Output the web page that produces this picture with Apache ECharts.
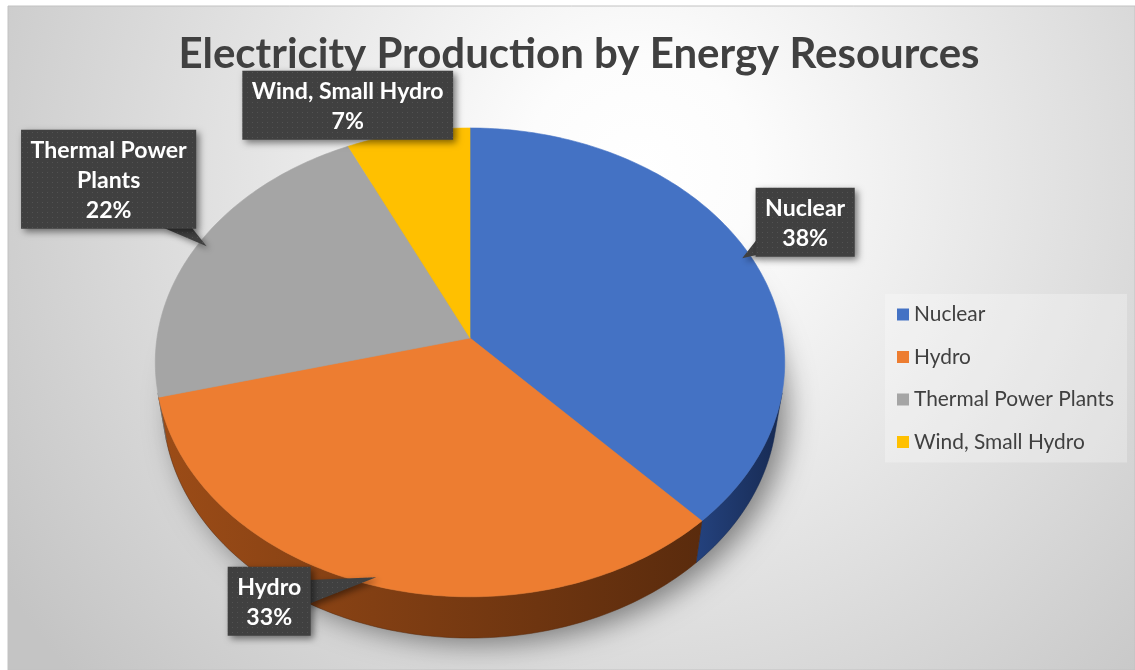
<!DOCTYPE html>
<html><head><meta charset="utf-8">
<script src="https://cdn.jsdelivr.net/npm/echarts@6/dist/echarts.min.js"></script>
<style>html,body{margin:0;padding:0;background:#fff}#chart{width:1135px;height:670px}</style>
</head><body><div id="chart"></div>
<script>
// ---- data ----
const categories = ['Nuclear', 'Hydro', 'Thermal Power Plants', 'Wind, Small Hydro'];
const shares = [38, 33, 22, 7];
const labelNames = ['Nuclear', 'Hydro', 'Thermal Power\nPlants', 'Wind, Small Hydro'];
const titleText = 'Electricity Production by Energy Resources';

// ---- styles / layout ----
const topColors = ['#4472c4', '#ed7d31', '#a5a5a5', '#ffc000'];
const wallColors = [['#24427e', '#172a52'], ['#9c4c17', '#5a2b0d'], ['#8a8a8a', '#6e6e6e'], ['#c99a06', '#a07800']];
const VIEW = {cx: 470, cy: 338, halfWidth: 313, dist: 6.45, elev: 47.8 * Math.PI / 180, depth: 0.21};
const labelOffsets = [[63, -36], [-107, 24], [-98, -67], [-62, -33]];
const FONT = 'Lato';

const mctx = document.createElement('canvas').getContext('2d');
function textW(t, font) { mctx.font = font; return mctx.measureText(t).width; }
const titleSize = Math.round(100 * 792 / textW(titleText, 'bold 100px ' + FONT));
const labelSize = Math.round(10 * 100 * 192 / textW('Wind, Small Hydro', 'bold 100px ' + FONT)) / 10;
const legendSize = Math.round(10 * 100 * 200 / textW('Thermal Power Plants', '100px ' + FONT)) / 10;

const pat = document.createElement('canvas'); pat.width = 5; pat.height = 5;
const pc = pat.getContext('2d');
pc.fillStyle = '#404040'; pc.fillRect(0, 0, 5, 5);
pc.fillStyle = '#525252'; pc.fillRect(2, 2, 1, 1);
const boxFill = {image: pat, repeat: 'repeat'};

const F = VIEW.halfWidth * VIEW.dist;
const SE = Math.sin(VIEW.elev), CE = Math.cos(VIEW.elev);
function project(px, py, pz) {
  const d = VIEW.dist - (py * SE + pz * CE);
  return [VIEW.cx + F * px / d, VIEW.cy - F * (py * CE - pz * SE) / d];
}
function rim(theta, y, r) { r = r || 1; return project(r * Math.sin(theta), y, -r * Math.cos(theta)); }
function arc(a, b, y) {
  const n = Math.max(2, Math.ceil(Math.abs(b - a) / (Math.PI / 180)));
  const pts = [];
  for (let k = 0; k <= n; k++) pts.push(rim(a + (b - a) * k / n, y));
  return pts;
}
const total = shares.reduce((s, v) => s + v, 0);

function renderItem(params, api) {
  const i = params.dataIndex;
  const val = api.value(1);
  let before = 0;
  for (let k = 0; k < i; k++) before += shares[k];
  const a0 = before / total * 2 * Math.PI;
  const a1 = (before + val) / total * 2 * Math.PI;
  const h = -VIEW.depth;
  const children = [];
  if (i === 0) {
    children.push({type: 'polygon', z2: 0, shape: {points: arc(0, 2 * Math.PI, h)},
      style: {fill: '#8c8c8c', shadowBlur: 28, shadowColor: 'rgba(0,0,0,0.45)', shadowOffsetX: 10, shadowOffsetY: 6}});
  }
  const lim = Math.acos(-1 / (VIEW.dist * CE));
  const w0 = Math.max(a0, lim), w1 = Math.min(a1, 2 * Math.PI - lim);
  if (w1 > w0) {
    const pts = arc(w0, w1, 0).concat(arc(w1, w0, h));
    let minX = Infinity, maxX = -Infinity;
    pts.forEach(p => { minX = Math.min(minX, p[0]); maxX = Math.max(maxX, p[0]); });
    children.push({type: 'polygon', z2: 2, shape: {points: pts},
      style: {fill: new echarts.graphic.LinearGradient(minX, 0, maxX, 0,
        [{offset: 0, color: wallColors[i][0]}, {offset: 1, color: wallColors[i][1]}], true),
        stroke: wallColors[i][1], lineWidth: 0.5}});
  }
  const topPts = [project(0, 0, 0)].concat(arc(a0, a1, 0));
  children.push({type: 'polygon', z2: 5, shape: {points: topPts},
    style: {fill: topColors[i], stroke: topColors[i], lineWidth: 0.6}});

  // data label callout
  const am = (a0 + a1) / 2;
  const tip = rim(am, 0, 0.97);
  const text = labelNames[i] + '\n' + Math.round(val / total * 100) + '%';
  const lines = text.split('\n');
  const lf = 'bold ' + labelSize + 'px ' + FONT;
  const tw = Math.max.apply(null, lines.map(l => textW(l, lf)));
  const bw = tw + 19, bh = lines.length * 30 + 9;
  const bx = tip[0] + labelOffsets[i][0], by = tip[1] + labelOffsets[i][1];
  const L = bx - bw / 2, T = by - bh / 2, Rr = bx + bw / 2, B = by + bh / 2;
  const inside = tip[0] > L && tip[0] < Rr && tip[1] > T && tip[1] < B;
  if (!inside) {
    const dx = tip[0] - bx, dy = tip[1] - by;
    const tx = dx !== 0 ? (bw / 2) / Math.abs(dx) : Infinity;
    const ty = dy !== 0 ? (bh / 2) / Math.abs(dy) : Infinity;
    let base;
    if (tx < ty) {
      const ex = dx > 0 ? Rr : L, ey = by + dy * tx;
      const y0 = Math.max(T + 2, ey - 12), y1 = Math.min(B - 2, ey + 12);
      base = [[ex - Math.sign(dx) * 2, y0], [ex - Math.sign(dx) * 2, y1]];
    } else {
      const ey = dy > 0 ? B : T, ex = bx + dx * ty;
      const x0 = Math.max(L + 2, ex - 20), x1 = Math.min(Rr - 2, ex + 10);
      base = [[x0, ey - Math.sign(dy) * 2], [x1, ey - Math.sign(dy) * 2]];
    }
    children.push({type: 'polygon', z2: 20, shape: {points: [base[0], tip, base[1]]},
      style: {fill: boxFill, shadowBlur: 6, shadowColor: 'rgba(0,0,0,0.45)', shadowOffsetX: 3, shadowOffsetY: 3}});
  }
  children.push({type: 'rect', z2: 21, shape: {x: L, y: T, width: bw, height: bh},
    style: {fill: boxFill, shadowBlur: 7, shadowColor: 'rgba(0,0,0,0.5)', shadowOffsetX: 3, shadowOffsetY: 3}});
  children.push({type: 'text', z2: 22, style: {text: text, x: bx, y: by + 1, align: 'center', verticalAlign: 'middle',
    fill: '#ffffff', fontFamily: FONT, fontWeight: 'bold', fontSize: labelSize, lineHeight: 30}});
  return {type: 'group', children: children};
}

const chart = echarts.init(document.getElementById('chart'), null, {renderer: 'canvas'});
chart.setOption({
  animation: false,
  backgroundColor: '#ffffff',
  color: topColors,
  graphic: [{type: 'rect', z: -10, silent: true, shape: {x: 8, y: 6, width: 1127, height: 664},
    style: {fill: new echarts.graphic.RadialGradient(640, 170, 760,
      [{offset: 0, color: '#ffffff'}, {offset: 0.15, color: '#fcfcfc'}, {offset: 1, color: '#c4c4c4'}], true),
      stroke: '#c2c2c2', lineWidth: 1}}],
  title: {text: titleText, left: 574, top: 28, textAlign: 'center',
    textStyle: {fontFamily: FONT, fontWeight: 'bold', fontSize: titleSize, color: '#404040'}},
  legend: {orient: 'vertical', left: 885, top: 294, padding: [10, 13, 10, 12], itemGap: 21.5,
    itemWidth: 12, itemHeight: 12, icon: 'rect', selectedMode: false,
    backgroundColor: 'rgba(255,255,255,0.28)',
    textStyle: {fontFamily: FONT, fontSize: legendSize, color: '#404040', lineHeight: 20},
    data: categories},
  series: [
    {type: 'custom', coordinateSystem: 'none', renderItem: renderItem, silent: true,
      data: shares.map((v, i) => [i, v])},
    {type: 'pie', radius: ['0%', '0%'], center: [470, 338], silent: true,
      label: {show: false}, labelLine: {show: false},
      data: categories.map((c, i) => ({name: c, value: shares[i]}))}
  ]
});
</script></body></html>
